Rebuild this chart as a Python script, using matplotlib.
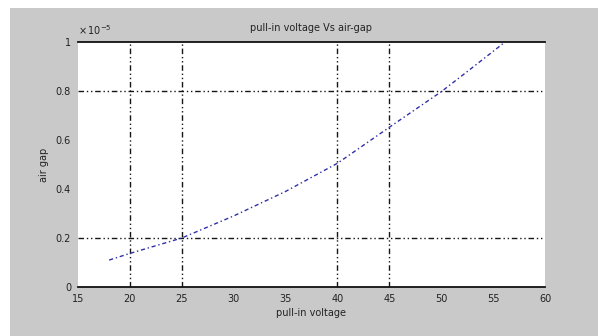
import matplotlib
matplotlib.use("Agg")
import matplotlib.pyplot as plt
from matplotlib.patches import Rectangle

# pull-in voltage (V) against air gap (x 1e-5 m)
voltage = [18.0, 20.0, 25.0, 30.0, 35.0, 40.0, 45.0, 50.0, 52.5, 56.0]
air_gap = [0.110, 0.137, 0.200, 0.290, 0.390, 0.505, 0.652, 0.797, 0.879, 0.995]

x_ticks = [15, 20, 25, 30, 35, 40, 45, 50, 55, 60]
x_tick_labels = ["15", "20", "25", "30", "35", "40", "45", "50", "55", "60"]
y_ticks = [0, 0.2, 0.4, 0.6, 0.8, 1.0]
y_tick_labels = ["0", "0.2", "0.4", "0.6", "0.8", "1"]
grid_x = [20, 25, 40, 45]
grid_y = [0.2, 0.8]

W, H = 598, 336
fig = plt.figure(figsize=(W / 100, H / 100), dpi=100, facecolor="white")
fig.patches.append(Rectangle((10 / W, 0), 1 - 10 / W, 1 - 8 / H,
                             transform=fig.transFigure, facecolor="#c9c9c9",
                             edgecolor="none", zorder=-10))

left, right, top, bottom = 78, 545, 42, 287
ax = fig.add_axes([left / W, 1 - bottom / H, (right - left) / W, (bottom - top) / H])
ax.set_facecolor("white")

ax.plot(voltage, air_gap, color="#3030a8", lw=1.0, linestyle=(0, (3, 2, 1, 2)), zorder=3)

grid_style = dict(color="#161616", lw=1.0, linestyle=(0, (4, 2, 1, 2, 1, 2)), zorder=2)
for gx in grid_x:
    ax.axvline(gx, **grid_style)
for gy in grid_y:
    ax.axhline(gy, **grid_style)

ax.set_xlim(15, 60)
ax.set_ylim(0, 1)
ax.set_xticks(x_ticks)
ax.set_xticklabels(x_tick_labels)
ax.set_yticks(y_ticks)
ax.set_yticklabels(y_tick_labels)
ax.tick_params(axis="both", length=0, labelsize=7, colors="#222222", pad=5)
ax.set_xticks(grid_x, minor=True)
ax.tick_params(axis="x", which="minor", direction="in", length=5, width=2.0,
               top=True, bottom=True, color="#111111")

for side in ("left", "right"):
    ax.spines[side].set_visible(False)
for side in ("top", "bottom"):
    ax.spines[side].set_color("#111111")
    ax.spines[side].set_linewidth(1.3)

ax.set_title("pull-in voltage Vs air-gap", fontsize=7, color="#222222", pad=8)
ax.set_xlabel("pull-in voltage", fontsize=7, color="#222222", labelpad=3)
ax.set_ylabel("air gap", fontsize=7, color="#222222", labelpad=5)
ax.text(0.0, 1.02, r"$\times\,10^{-5}$", transform=ax.transAxes, fontsize=7,
        color="#222222", ha="left", va="bottom")

fig.savefig("out.png", dpi=100, facecolor=fig.get_facecolor())
